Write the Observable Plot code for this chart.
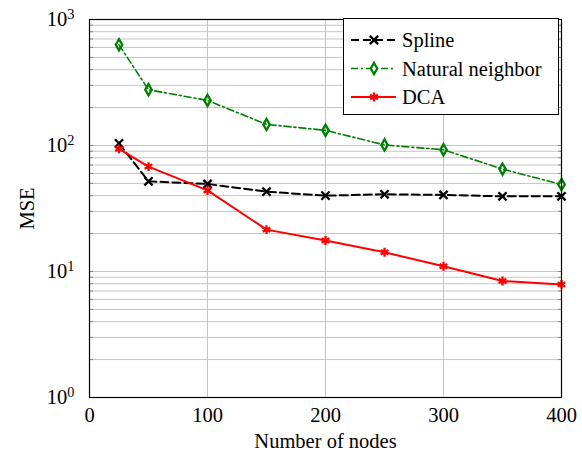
<!DOCTYPE html>
<html>
<head>
<meta charset="utf-8">
<script src="https://cdn.jsdelivr.net/npm/d3@7"></script>
<script src="https://cdn.jsdelivr.net/npm/@observablehq/plot@0.6"></script>
<style>
  body { margin: 0; background: #fff; }
  #wrap { position: relative; width: 582px; height: 453px; font-family: "Liberation Serif", "DejaVu Serif", serif; }
  #legend { position: absolute; left: 343px; top: 18px; width: 216px; height: 97px; background: #fff; border: 1px solid #000; box-sizing: border-box; }
  #legend svg { position: absolute; left: 0; top: 0; }
</style>
</head>
<body>
<div id="wrap"></div>
<script>
// ---- data ----
const nodes = [25, 50, 100, 150, 200, 250, 300, 350, 400];
const splineMSE = [104, 52, 49.5, 43, 40, 41, 40.5, 39.5, 39.5];
const naturalMSE = [630, 277, 228, 147, 132, 101, 92.5, 65, 49];
const dcaMSE = [94, 68, 44, 21.5, 17.6, 14.2, 11, 8.4, 7.9];
const seriesNames = ["Spline", "Natural neighbor", "DCA"];
const xTicks = [0, 100, 200, 300, 400];
const yTicks = [1, 10, 100, 1000];

const FONT = '"Liberation Serif", "DejaVu Serif", serif';
const FS = 20.5;
const styles = {
  "Spline": {stroke: "#000000", dash: "8,4", symbol: "times", width: 2, r: 3.8},
  "Natural neighbor": {stroke: "#008000", dash: "7,3,2,3", symbol: "diamond", width: 1.6, r: 3.4},
  "DCA": {stroke: "#ff0000", dash: null, symbol: "asterisk", width: 2, r: 4.2}
};

const toRows = (name, vals) => nodes.map((n, i) => ({series: name, x: n, y: vals[i]}));
const spline = toRows("Spline", splineMSE);
const natural = toRows("Natural neighbor", naturalMSE);
const dca = toRows("DCA", dcaMSE);

const minorY = [];
for (let k = 0; k < 3; k++) for (let m = 1; m <= 9; m++) minorY.push(m * Math.pow(10, k));

function seriesMarks(data, name) {
  const s = styles[name];
  return [
    Plot.line(data, {x: "x", y: "y", stroke: s.stroke, strokeWidth: s.width, strokeDasharray: s.dash}),
    Plot.dot(data, {x: "x", y: "y", symbol: () => s.symbol, stroke: s.stroke, fill: "none", strokeWidth: 2.3, r: s.r})
  ];
}

const chart = Plot.plot({
  width: 582,
  height: 453,
  marginLeft: 89,
  marginRight: 21,
  marginTop: 19,
  marginBottom: 56,
  style: {fontFamily: FONT, fontSize: FS + "px", color: "#000", background: "#fff"},
  x: {domain: [0, 400], ticks: xTicks, label: null},
  y: {type: "log", domain: [1, 1000], ticks: yTicks, label: null},
  marks: [
    Plot.gridY({ticks: minorY, stroke: "#c4c4c4", strokeOpacity: 1, strokeWidth: 1}),
    Plot.gridX({ticks: [100, 200, 300], stroke: "#c4c4c4", strokeOpacity: 1, strokeWidth: 1}),
    Plot.axisY({ticks: minorY, tickSize: -4, tickFormat: () => "", stroke: "#888", anchor: "left", label: null}),
    Plot.axisY({ticks: minorY, tickSize: -4, tickFormat: () => "", stroke: "#888", anchor: "right", label: null}),
    Plot.axisX({ticks: xTicks, tickSize: 0, tickPadding: 10, fontSize: FS, label: "Number of nodes", labelAnchor: "center", labelOffset: 50, labelArrow: "none"}),
    Plot.axisY({ticks: yTicks, tickSize: 0, tickPadding: 15, tickFormat: (d) => "10^" + Math.round(Math.log10(d)), fontSize: FS, label: "MSE", labelAnchor: "center", labelOffset: 70, labelArrow: "none"}),
    ...seriesMarks(spline, "Spline"),
    ...seriesMarks(natural, "Natural neighbor"),
    ...seriesMarks(dca, "DCA"),
    Plot.frame({stroke: "#000", strokeWidth: 1.2})
  ]
});

// superscript exponents in y tick labels
d3.select(chart).selectAll("text").each(function() {
  const t = d3.select(this);
  const s = t.text();
  const m = /^10\^(\d)$/.exec(s);
  if (m) {
    t.text("10");
    t.append("tspan").attr("dy", "-0.5em").attr("font-size", "0.7em").text(m[1]);
  }
});

const wrap = document.getElementById("wrap");
wrap.appendChild(chart);

// legend
const legend = document.createElement("div");
legend.id = "legend";
wrap.appendChild(legend);
const lsvg = d3.select(legend).append("svg").attr("width", 216).attr("height", 97);
seriesNames.forEach((name, i) => {
  const s = styles[name];
  const cy = 21 + i * 28.5;
  lsvg.append("line").attr("x1", 7).attr("x2", 52).attr("y1", cy).attr("y2", cy)
    .attr("stroke", s.stroke).attr("stroke-width", s.width).attr("stroke-dasharray", s.dash);
  const sym = {times: d3.symbolTimes, diamond: d3.symbolDiamond, asterisk: d3.symbolAsterisk}[s.symbol];
  lsvg.append("path").attr("d", d3.symbol(sym, Math.PI * s.r * s.r)()).attr("transform", `translate(30,${cy})`)
    .attr("stroke", s.stroke).attr("fill", "white").attr("stroke-width", 2.3);
  lsvg.append("text").attr("x", 58).attr("y", cy).attr("dy", "0.35em")
    .attr("font-family", FONT).attr("font-size", FS).text(name);
});
</script>
</body>
</html>
